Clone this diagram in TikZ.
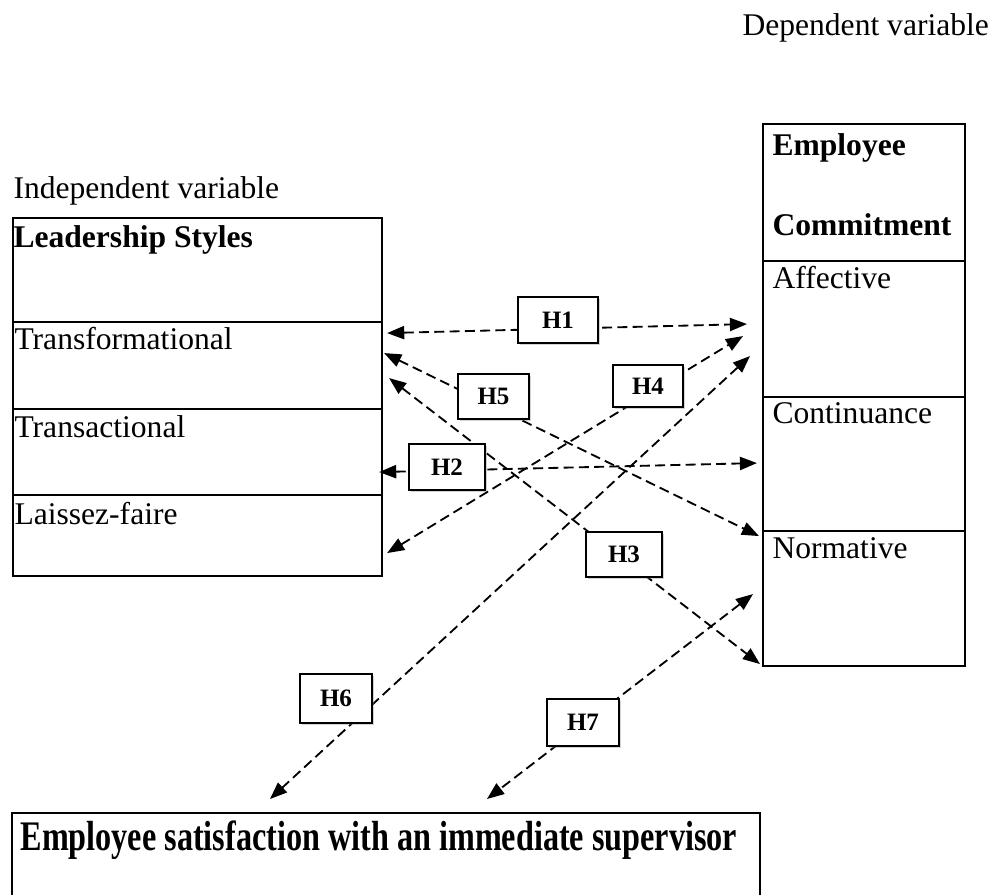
\documentclass[tikz,border=0pt]{standalone}
\usepackage{fontspec}
\setmainfont{Liberation Serif}
\usepackage{graphicx}
\usetikzlibrary{arrows.meta,shadows}
\newcommand{\pxu}{0.38pt}

\begin{document}
\begin{tikzpicture}[x=\pxu,y=-\pxu]
    \tikzstyle{row}=[draw,line width=0.8pt,rectangle,inner sep=0pt,anchor=north west]
    \tikzstyle{txt}=[inner sep=0pt,anchor=base west,font=\fontsize{12}{14}\selectfont]
    \tikzstyle{hyp}=[{Triangle[length=6.5pt,width=5pt]}-{Triangle[length=6.5pt,width=5pt]},line width=0.7pt,dash pattern=on 3.8pt off 2pt]
    \tikzstyle{hbox}=[draw,fill=white,line width=0.8pt,minimum width={74*\pxu},minimum height={46*\pxu},font=\fontsize{9.5}{10}\selectfont\bfseries,drop shadow={shadow xshift=0.6pt,shadow yshift=-0.6pt,opacity=0.35}]
    \useasboundingbox (0,0) rectangle (992,894);
    \node[row,minimum width={369*\pxu},minimum height={104*\pxu}] (ldr) at (12,217) {};
    \node[row,minimum width={369*\pxu},minimum height={87*\pxu}] (trf) at (12,321) {};
    \node[row,minimum width={369*\pxu},minimum height={86*\pxu}] (trs) at (12,408) {};
    \node[row,minimum width={369*\pxu},minimum height={81*\pxu}] (lzf) at (12,494) {};
    \node[row,minimum width={202*\pxu},minimum height={137*\pxu}] (emc) at (762,123) {};
    \node[row,minimum width={202*\pxu},minimum height={136*\pxu}] (aff) at (762,260) {};
    \node[row,minimum width={202*\pxu},minimum height={134*\pxu}] (con) at (762,396) {};
    \node[row,minimum width={202*\pxu},minimum height={135*\pxu}] (nor) at (762,530) {};
    \node[row,minimum width={748*\pxu},minimum height={100*\pxu}] (sat) at (11,812) {};
    \node[txt] (indep) at (13,198) {Independent variable};
    \node[txt] (dep) at (742,35) {Dependent variable};
    \node[txt] (ldrT) at ([shift={(1,30)}]ldr.north west) {\bfseries Leadership Styles};
    \node[txt] (trfT) at ([shift={(2,28)}]trf.north west) {Transformational};
    \node[txt] (trsT) at ([shift={(2,29)}]trs.north west) {Transactional};
    \node[txt] (lzfT) at ([shift={(2,30)}]lzf.north west) {Laissez-faire};
    \node[txt] (emcT) at ([shift={(10,32)}]emc.north west) {\bfseries Employee};
    \node[txt] (emcB) at ([shift={(10,112)}]emc.north west) {\bfseries Commitment};
    \node[txt] (affT) at ([shift={(10,28)}]aff.north west) {Affective};
    \node[txt] (conT) at ([shift={(10,27)}]con.north west) {Continuance};
    \node[txt] (norT) at ([shift={(10,28)}]nor.north west) {Normative};
    \node[txt,font=\fontsize{16}{18}\selectfont\bfseries] (satT) at ([shift={(9,38)}]sat.north west) {\scalebox{0.765}[1]{Employee satisfaction with an immediate supervisor}};
    \draw[hyp] ([shift={(4,-32.5)}]trf.east) -- ([shift={(-15,-5)}]aff.west);
    \draw[hyp] ([shift={(1,-12.5)}]trf.east) -- ([shift={(-3,-62.5)}]nor.west);
    \draw[hyp] ([shift={(6,12.5)}]trf.east) -- ([shift={(-2,65.5)}]nor.west);
    \draw[hyp] ([shift={(4,17.5)}]lzf.east) -- ([shift={(-19,7)}]aff.west);
    \draw[hyp] ([shift={(-4,20)}]trs.east) -- ([shift={(-5,-1)}]con.west);
    \draw[hyp] ([shift={(-12,27)}]aff.west) -- ([shift={(259,-13)}]sat.north west);
    \draw[hyp] ([shift={(-9,-4.5)}]nor.west) -- ([shift={(476,-13)}]sat.north west);
    \node[hbox,minimum width={80*\pxu}] (h1) at (558,320) {H1};
    \node[hbox,minimum width={70*\pxu},minimum height={42*\pxu}] (h4) at (648,386) {H4};
    \node[hbox,minimum width={71*\pxu},minimum height={45*\pxu}] (h5) at (493.5,396.5) {H5};
    \node[hbox,minimum width={76*\pxu}] (h2) at (447,467) {H2};
    \node[hbox,minimum width={76*\pxu},minimum height={45*\pxu}] (h3) at (624,554.5) {H3};
    \node[hbox,minimum width={72*\pxu},minimum height={49*\pxu}] (h6) at (336,698.5) {H6};
    \node[hbox,minimum width={72*\pxu},minimum height={47*\pxu}] (h7) at (583,722.5) {H7};
\end{tikzpicture}
\end{document}
